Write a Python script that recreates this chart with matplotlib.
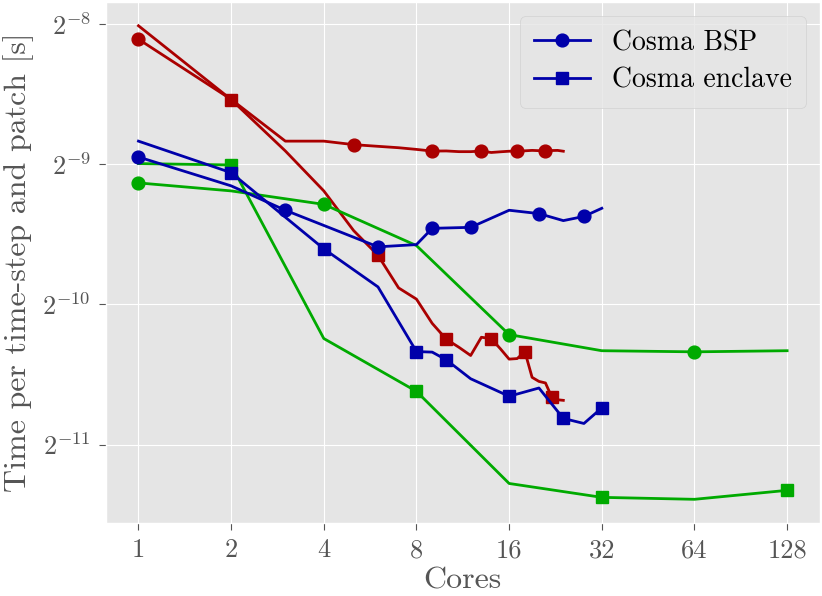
import numpy as np
import matplotlib
matplotlib.use("Agg")
import matplotlib.pyplot as plt
from matplotlib.ticker import FuncFormatter, LogLocator

plt.style.use("ggplot")
plt.rcParams["font.family"] = "cmr10"
plt.rcParams["mathtext.fontset"] = "cm"
plt.rcParams["axes.unicode_minus"] = False
plt.rcParams["axes.formatter.use_mathtext"] = True

## data (time per step as log2 seconds)
red_bsp_cores = list(range(1, 25))
red_bsp_log2 = [-8.108, -8.537, -8.835, -8.835, -8.860, -8.872, -8.882, -8.894,
                -8.906, -8.905, -8.910, -8.910, -8.906, -8.916, -8.911, -8.907,
                -8.906, -8.904, -8.901, -8.903, -8.906, -8.902, -8.901, -8.907]

red_enc_cores = list(range(1, 25))
red_enc_log2 = [-8.012, -8.538, -8.905, -9.190, -9.473, -9.650, -9.882, -9.962,
                -10.135, -10.248, -10.306, -10.364, -10.234, -10.244, -10.317, -10.390,
                -10.386, -10.336, -10.520, -10.549, -10.560, -10.660, -10.680, -10.684]

blue_bsp_cores = [1, 2, 3, 6, 8, 9, 12, 16, 20, 24, 28, 32]
blue_bsp_log2 = [-8.948, -9.154, -9.328, -9.589, -9.573, -9.457, -9.450,
                 -9.328, -9.352, -9.402, -9.372, -9.314]

blue_enc_cores = [1, 2, 4, 6, 8, 9, 10, 12, 16, 20, 24, 28, 32]
blue_enc_log2 = [-8.835, -9.060, -9.603, -9.875, -10.336, -10.340, -10.395,
                 -10.530, -10.655, -10.596, -10.813, -10.849, -10.738]

green_bsp_cores = [1, 2, 4, 8, 16, 32, 64, 128]
green_bsp_log2 = [-9.133, -9.190, -9.286, -9.580, -10.215, -10.330, -10.338, -10.330]

green_enc_cores = [1, 2, 4, 8, 16, 32, 64, 128]
green_enc_log2 = [-8.995, -9.005, -10.243, -10.620, -11.277, -11.376, -11.390, -11.326]

# cores where a marker is drawn
red_bsp_marked = [1, 5, 9, 13, 17, 21]
red_enc_marked = [2, 6, 10, 14, 18, 22]
blue_bsp_marked = [1, 3, 6, 9, 12, 20, 28]
blue_enc_marked = [2, 4, 8, 10, 16, 24, 32]
green_bsp_marked = [1, 4, 16, 64]
green_enc_marked = [2, 8, 32, 128]

RED = "#aa0000"
BLUE = "#0000aa"
GREEN = "#00aa00"

series = [
    (red_bsp_cores, red_bsp_log2, red_bsp_marked, RED, "o", None),
    (red_enc_cores, red_enc_log2, red_enc_marked, RED, "s", None),
    (green_bsp_cores, green_bsp_log2, green_bsp_marked, GREEN, "o", None),
    (green_enc_cores, green_enc_log2, green_enc_marked, GREEN, "s", None),
    (blue_bsp_cores, blue_bsp_log2, blue_bsp_marked, BLUE, "o", "Cosma BSP"),
    (blue_enc_cores, blue_enc_log2, blue_enc_marked, BLUE, "s", "Cosma enclave"),
]

fig = plt.figure(figsize=(8.22, 5.96), dpi=100)
ax = fig.add_axes([0.129, 0.1225, 0.868, 0.874])

for cores, vals, marked, col, mk, lab in series:
    idx = [cores.index(c) for c in marked]
    ax.plot(cores, np.exp2(vals), color=col, marker=mk, markevery=idx,
            lw=2.0, markersize=9.2 if mk == "o" else 9.0, label=lab)

ax.set_xscale("log", base=2)
ax.set_yscale("log", base=2)
ax.xaxis.set_major_formatter(FuncFormatter(lambda v, p: "%d" % v))
ax.yaxis.set_major_locator(LogLocator(base=2))
ax.yaxis.set_major_formatter(FuncFormatter(lambda v, p: r"$2^{%d}$" % round(np.log2(v))))
ax.minorticks_off()

ax.tick_params(axis="both", labelsize=19, colors="#555555", length=5, pad=6)
ax.set_xlabel("Cores", fontsize=23, color="#555555", labelpad=4)
ax.set_ylabel("Time per time-step and patch [s]", fontsize=23, color="#555555", labelpad=6)

ax.legend(loc="upper right", fontsize=20, handlelength=2.0, borderpad=0.5,
          labelspacing=0.4)

plt.savefig("out.png", dpi=100)
